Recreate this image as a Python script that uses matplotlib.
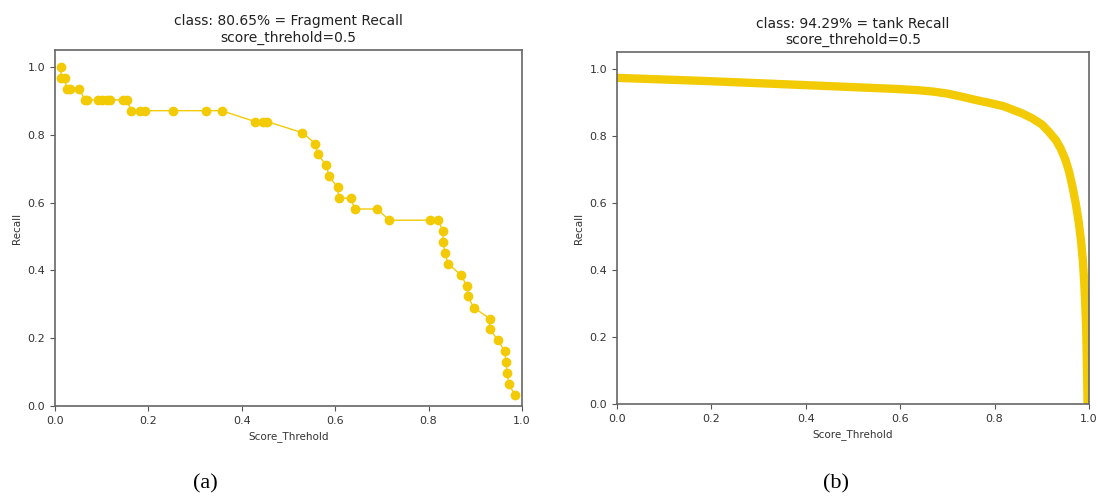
import matplotlib

matplotlib.use("Agg")
import matplotlib.pyplot as plt

# panel (a): Fragment recall vs score threshold
frag_score = [
    0.013, 0.013, 0.021, 0.025, 0.032, 0.052, 0.064, 0.069, 0.092, 0.100,
    0.111, 0.118, 0.146, 0.154, 0.163, 0.182, 0.193, 0.253, 0.323, 0.357,
    0.428, 0.445, 0.454, 0.530, 0.557, 0.563, 0.581, 0.587, 0.605, 0.608,
    0.633, 0.642, 0.690, 0.716, 0.803, 0.820, 0.831, 0.831, 0.835, 0.842,
    0.869, 0.882, 0.884, 0.897, 0.931, 0.931, 0.949, 0.963, 0.966, 0.968,
    0.972, 0.985,
]
frag_recall = [
    1.000, 0.968, 0.968, 0.935, 0.935, 0.935, 0.903, 0.903, 0.903, 0.903,
    0.903, 0.903, 0.903, 0.903, 0.871, 0.871, 0.871, 0.871, 0.871, 0.871,
    0.839, 0.839, 0.839, 0.806, 0.774, 0.742, 0.710, 0.677, 0.645, 0.613,
    0.613, 0.581, 0.581, 0.548, 0.548, 0.548, 0.516, 0.484, 0.452, 0.419,
    0.387, 0.355, 0.323, 0.290, 0.258, 0.226, 0.194, 0.161, 0.129, 0.097,
    0.065, 0.032,
]

# panel (b): tank recall vs score threshold
tank_score = [
    0.0, 0.18, 0.37, 0.59, 0.64, 0.67, 0.70, 0.73, 0.76, 0.79, 0.82, 0.84,
    0.86, 0.88, 0.90, 0.915, 0.93, 0.94, 0.95, 0.958, 0.965, 0.972, 0.978,
    0.983, 0.987, 0.990, 0.992, 0.994, 0.995, 0.996, 0.997,
]
tank_recall = [
    0.973, 0.964, 0.953, 0.940, 0.936, 0.932, 0.926, 0.917, 0.907, 0.898,
    0.888, 0.877, 0.866, 0.852, 0.834, 0.812, 0.787, 0.762, 0.729, 0.692,
    0.648, 0.598, 0.545, 0.488, 0.428, 0.36, 0.30, 0.23, 0.16, 0.08, 0.0,
]

titles = [
    "class: 80.65% = Fragment Recall\nscore_threhold=0.5",
    "class: 94.29% = tank Recall\nscore_threhold=0.5",
]
panel_tags = ["(a)", "(b)"]

line_color = "#f2cb05"

fig = plt.figure(figsize=(11, 4.97), dpi=100)
ax_a = fig.add_axes([0.05, 0.1831, 0.4245, 0.7163])
ax_b = fig.add_axes([0.5609, 0.1871, 0.4291, 0.7082])

ax_a.plot(frag_score, frag_recall, "-o", color=line_color, lw=1.0, markersize=6)
ax_b.plot(tank_score, tank_recall, "-", color=line_color, lw=6,
          solid_capstyle="butt", solid_joinstyle="round")

for ax, title in zip((ax_a, ax_b), titles):
    ax.set_xlim(0, 1)
    ax.set_ylim(0, 1.05)
    ax.set_xticks([0.0, 0.2, 0.4, 0.6, 0.8, 1.0])
    ax.set_yticks([0.0, 0.2, 0.4, 0.6, 0.8, 1.0])
    ax.set_title(title, fontsize=10, color="#222222")
    ax.set_xlabel("Score_Threhold", fontsize=7.5, color="#333333")
    ax.set_ylabel("Recall", fontsize=7.5, color="#333333")
    ax.tick_params(labelsize=8, colors="#555555", labelcolor="#333333")
    for spine in ax.spines.values():
        spine.set_color("#666666")
        spine.set_linewidth(1.2)

fig.text(205 / 1100, 1 - 484 / 497, panel_tags[0], ha="center", va="center",
         fontsize=16, family="Liberation Serif")
fig.text(836 / 1100, 1 - 484 / 497, panel_tags[1], ha="center", va="center",
         fontsize=16, family="Liberation Serif")

fig.savefig("out.png", dpi=100)
